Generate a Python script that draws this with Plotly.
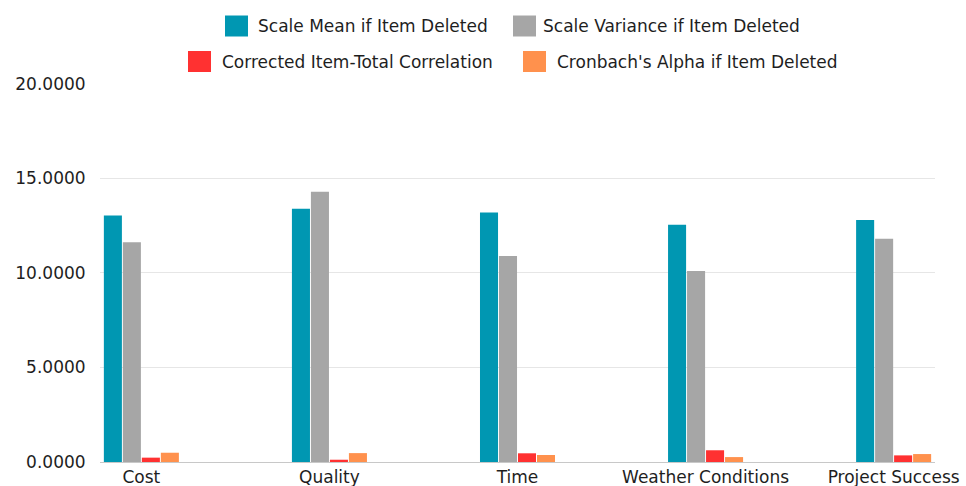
import plotly.graph_objects as go

# Reliability statistics per construct
categories = ["Cost", "Quality", "Time", "Weather Conditions", "Project Success"]
scale_mean = [13.03, 13.39, 13.19, 12.54, 12.79]
scale_variance = [11.61, 14.28, 10.89, 10.10, 11.80]
item_total_corr = [0.23, 0.12, 0.46, 0.62, 0.35]
alpha_if_deleted = [0.49, 0.47, 0.37, 0.26, 0.42]

series_names = [
    "Scale Mean if Item Deleted",
    "Scale Variance if Item Deleted",
    "Corrected Item-Total Correlation",
    "Cronbach's Alpha if Item Deleted",
]
series_values = [scale_mean, scale_variance, item_total_corr, alpha_if_deleted]
series_colors = ["#0097B2", "#A6A6A6", "#FF3131", "#FF914D"]

y_ticks = [0, 5, 10, 15, 20]

W, H = 966, 486
ML, MR, MT, MB = 100, 31, 83, 24
PW, PH = W - ML - MR, H - MT - MB
FONT = "DejaVu Sans"
FS = 17
TXT = "#1E1E1E"


def px_x(px):
    return (px - ML) / PW


def px_y(py):
    return (H - MB - py) / PH


fig = go.Figure()
for name, vals, color in zip(series_names, series_values, series_colors):
    fig.add_trace(go.Bar(
        x=categories, y=vals, name=name,
        marker=dict(color=color, line=dict(width=0)),
        showlegend=False, hoverinfo="skip",
    ))

# Legend: two centred rows with square swatches
legend_rows = [
    [(0, 225, 256), (1, 513, 541)],
    [(2, 188, 220), (3, 523, 555)],
]
row_centres = [26, 61.5]
shapes, annotations = [], []
for row, yc in zip(legend_rows, row_centres):
    for idx, sx, tx in row:
        shapes.append(dict(
            type="rect", xref="paper", yref="paper",
            x0=px_x(sx), x1=px_x(sx + 23), y0=px_y(yc + 10.5), y1=px_y(yc - 10.5),
            fillcolor=series_colors[idx], line=dict(width=0),
        ))
        annotations.append(dict(
            xref="paper", yref="paper", x=px_x(tx), y=px_y(yc),
            xanchor="left", yanchor="middle", showarrow=False,
            text=series_names[idx],
            font=dict(family=FONT, size=FS, color=TXT),
        ))

fig.update_layout(
    width=W, height=H,
    margin=dict(l=ML, r=MR, t=MT, b=MB, autoexpand=False),
    barmode="group", bargap=0.596, bargroupgap=0.05,
    plot_bgcolor="white", paper_bgcolor="white",
    font=dict(family=FONT, size=FS, color=TXT),
    shapes=shapes, annotations=annotations,
    xaxis=dict(
        type="category", range=[-0.22, 4.22], automargin=False,
        showgrid=False, showline=True, linecolor="#C8C8C8", linewidth=1,
        ticks="outside", ticklen=0, tickcolor="rgba(0,0,0,0)",
        tickfont=dict(family=FONT, size=FS, color=TXT),
    ),
    yaxis=dict(
        range=[0, 20.03], tickvals=y_ticks, automargin=False,
        ticktext=[f"{v:.4f}" for v in y_ticks],
        showgrid=True, gridcolor="#E6E6E6", gridwidth=1,
        zeroline=False, showline=False,
        ticks="outside", ticklen=10, tickcolor="rgba(0,0,0,0)",
        tickfont=dict(family=FONT, size=FS, color=TXT),
    ),
)

fig.write_html("out.html")
